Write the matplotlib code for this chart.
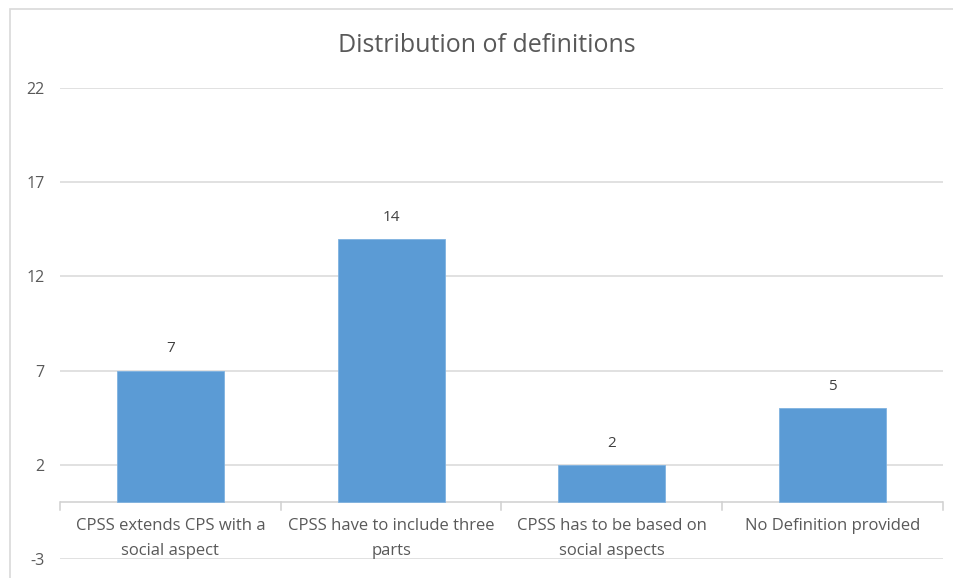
import matplotlib.pyplot as plt
from matplotlib.patches import Rectangle

categories = ['CPSS extends CPS with a\nsocial aspect',
              'CPSS have to include three\nparts',
              'CPSS has to be based on\nsocial aspects',
              'No Definition provided']
counts = [7, 14, 2, 5]
y_ticks = [-3, 2, 7, 12, 17, 22]

W, H = 954, 578
fig = plt.figure(figsize=(W / 100, H / 100), dpi=100)
plt.rcParams['font.family'] = ['Open Sans', 'DejaVu Sans']

# chart area border (runs off the right and bottom edges)
fig.patches.append(Rectangle((10 / W, -0.05), 1.0, 1 - 9 / H + 0.05,
                             transform=fig.transFigure, fill=False,
                             edgecolor='#D9D9D9', linewidth=1.2))

left, right, top, bottom = 60, 943, 88, 559
ax = fig.add_axes([left / W, 1 - bottom / H, (right - left) / W, (bottom - top) / H])
ax.set_xlim(-0.5, len(categories) - 0.5)
ax.set_ylim(y_ticks[0], y_ticks[-1])
for s in ax.spines.values():
    s.set_visible(False)

ax.set_yticks(y_ticks)
ax.set_yticklabels([str(t) for t in y_ticks], fontsize=11.5, color='#595959')
ax.tick_params(axis='y', length=0, pad=11)
ax.set_xticks([])
ax.yaxis.grid(True, color='#D9D9D9', linewidth=1.1)
ax.set_axisbelow(True)

x = list(range(len(categories)))
bars = ax.bar(x, counts, width=0.485, color='#5B9BD5', edgecolor='#7FB2E0',
              linewidth=0.6, zorder=3)

for b, v in zip(bars, counts):
    ax.text(b.get_x() + b.get_width() / 2, v + 0.75, str(v),
            ha='center', va='bottom', fontsize=11, color='#404040', zorder=4)

# category axis at zero with boundary tick marks
ax.axhline(0, color='#D0D0D0', linewidth=1.1, zorder=2)
for i in range(len(categories) + 1):
    ax.plot([i - 0.5, i - 0.5], [0, -0.4], color='#D0D0D0', linewidth=1.1,
            clip_on=False, zorder=2)

for i, label in enumerate(categories):
    ax.text(i, -0.8, label, ha='center', va='top', fontsize=12,
            color='#595959', linespacing=1.75)

fig.text(487 / W, 1 - 45 / H, 'Distribution of definitions', ha='center',
         va='center', fontsize=18, color='#595959')

plt.savefig('out.png', dpi=100)
